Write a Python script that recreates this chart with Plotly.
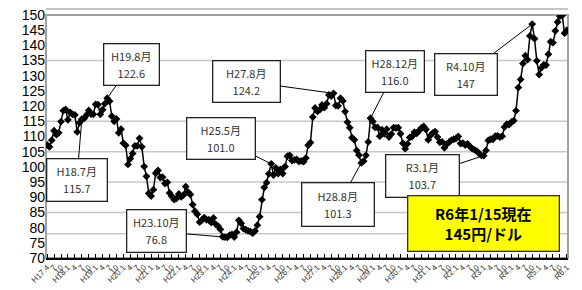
import plotly.graph_objects as go

# ---- data: monthly average USD/JPY (H17.4 .. R6.1) ----
y2005 = [107.2, 106.6, 108.8, 111.9, 110.6, 111.2, 114.9, 118.5, 118.9]          # Apr-Dec
y2006 = [115.5, 117.9, 117.3, 117.1, 111.5, 114.5, 115.7, 115.9, 117.0, 118.6, 117.4, 117.3]
y2007 = [120.6, 120.5, 117.3, 118.8, 120.8, 122.6, 121.6, 116.7, 115.0, 115.8, 111.2, 112.4]
y2008 = [107.8, 107.1, 100.8, 102.7, 104.4, 106.9, 106.9, 109.4, 106.6, 100.1, 96.9, 91.3]
y2009 = [90.4, 92.5, 97.9, 98.8, 96.5, 96.6, 94.5, 94.9, 91.4, 90.3, 89.2, 89.6]
y2010 = [91.1, 90.1, 90.7, 93.5, 91.7, 90.9, 87.6, 85.4, 84.4, 81.8, 82.5, 83.3]
y2011 = [82.6, 82.6, 81.7, 83.2, 81.1, 80.5, 79.4, 77.0, 76.9, 76.8, 77.5, 77.8]
y2012 = [76.9, 78.5, 82.4, 81.4, 79.7, 79.3, 78.9, 78.7, 78.2, 78.9, 80.8, 83.6]
y2013 = [89.2, 93.2, 94.8, 97.7, 101.0, 97.3, 99.7, 97.8, 99.2, 97.8, 100.1, 103.5]
y2014 = [103.8, 102.1, 102.3, 102.5, 101.8, 102.0, 101.7, 102.9, 107.1, 108.0, 116.4, 119.4]
y2015 = [118.3, 118.8, 120.4, 119.5, 120.8, 123.7, 123.3, 124.2, 120.2, 120.1, 122.6, 121.7]
y2016 = [118.2, 114.7, 112.9, 109.6, 108.9, 105.4, 103.9, 101.3, 101.9, 103.8, 108.2, 116.0]
y2017 = [114.9, 113.0, 113.0, 110.1, 112.2, 110.9, 112.4, 109.8, 110.8, 112.9, 112.8, 112.9]
y2018 = [110.9, 107.8, 106.0, 107.6, 109.7, 110.0, 111.4, 111.0, 111.9, 112.8, 113.3, 112.3]
y2019 = [108.9, 110.4, 111.2, 111.6, 109.8, 108.1, 108.2, 106.3, 107.5, 108.1, 108.8, 109.1]
y2020 = [109.3, 110.0, 107.7, 107.8, 107.2, 107.6, 106.7, 106.0, 105.6, 105.2, 104.4, 103.8]
y2021 = [103.7, 105.4, 108.7, 109.1, 109.1, 110.1, 110.2, 109.8, 110.1, 113.1, 114.1, 113.9]
y2022 = [114.8, 115.2, 118.5, 126.1, 128.8, 134.0, 136.6, 135.3, 143.1, 147.0, 142.2, 134.9]
y2023 = [130.4, 132.6, 133.6, 133.5, 137.1, 141.2, 140.9, 144.8, 147.7, 149.6, 149.8, 144.0]
y2024 = [145.0]                                                                   # Jan

rates = (y2005 + y2006 + y2007 + y2008 + y2009 + y2010 + y2011 + y2012 + y2013 + y2014
         + y2015 + y2016 + y2017 + y2018 + y2019 + y2020 + y2021 + y2022 + y2023 + y2024)


def era_label(year, month):
    if year < 2019 or (year == 2019 and month <= 4):
        return f"H{year - 1988}.{month}"
    return f"R{year - 2018}.{month}"


months = []
tick_vals = []
tick_text = []
year, month = 2005, 4
for i in range(len(rates)):
    lab = era_label(year, month)
    months.append(lab)
    if month in (1, 4, 7, 10):
        tick_vals.append(lab)
        tick_text.append(lab if (month == 1 or i == 0) else str(month))
    month += 1
    if month > 12:
        month = 1
        year += 1

y_ticks = list(range(70, 151, 5))
grid_values = [135, 115, 105, 95, 85, 78]

# callouts: (anchor month, label line, value line, ax, ay, width, height)
callouts = [
    ("H19.6", "H19.8月", "122.6", 24, -34, 50, 36),
    ("H18.7", "H18.7月", "115.7", -5, 61, 55, 37),
    ("H23.10", "H23.10月", "76.8", -71, -6, 54, 37),
    ("H25.5", "H25.5月", "101.0", -50, -25, 63, 36),
    ("H27.8", "H27.8月", "124.2", -87, -12, 62, 36),
    ("H28.8", "H28.8月", "101.3", -23, 42, 67, 38),
    ("H28.12", "H28.12月", "116.0", 24, -47, 53, 36),
    ("R4.10", "R4.10月", "147", -66, 50, 57, 36),
    ("R3.1", "R3.1月", "103.7", -61, 20, 68, 37),
]

fig = go.Figure()
fig.add_trace(go.Scatter(
    x=months, y=rates, mode="lines+markers",
    line=dict(color="black", width=1.5),
    marker=dict(symbol="diamond", size=6, color="black"),
    showlegend=False, hoverinfo="x+y",
))

shapes = []
for g in grid_values:
    shapes.append(dict(type="line", xref="paper", yref="y", x0=0, x1=1, y0=g, y1=g,
                       line=dict(color="#c8c8c8", width=1.5), layer="below"))
shapes.append(dict(type="rect", xref="paper", yref="paper", x0=0, x1=1, y0=0, y1=1,
                   line=dict(color="#a0a0a0", width=2), layer="below"))
shapes.append(dict(type="line", xref="paper", yref="paper", x0=0, x1=1, y0=1.025, y1=1.025,
                   line=dict(color="#b0b0b0", width=1.5)))

annotations = []
for anchor, line1, line2, ax, ay, w, h in callouts:
    val = rates[months.index(anchor)]
    text = (f"<span style='font-size:11px'>{line1}</span><br>"
            f"<span style='font-size:11px'>{line2}</span>")
    annotations.append(dict(
        x=anchor, y=val, xref="x", yref="y", text=text, showarrow=True,
        arrowhead=0, arrowwidth=1, arrowcolor="black", ax=ax, ay=ay,
        bgcolor="white", bordercolor="#222222", borderwidth=1.3, borderpad=2,
        width=w, height=h, align="center",
        font=dict(family="Noto Sans CJK JP", size=13, color="#333333"),
    ))
annotations.append(dict(
    x=0.839, y=0.14, xref="paper", yref="paper", showarrow=False,
    text="<b>R6年1/15現在<br>145円/ドル</b>",
    bgcolor="#ffff00", bordercolor="#333333", borderwidth=1.3, borderpad=2,
    width=146, height=50, align="center", xanchor="center", yanchor="middle",
    font=dict(family="Noto Sans CJK JP", size=15, color="black"),
))

fig.update_layout(
    width=582, height=290,
    margin=dict(l=46, r=14, t=15, b=32),
    paper_bgcolor="white", plot_bgcolor="white",
    shapes=shapes, annotations=annotations,
    xaxis=dict(
        type="category", range=[-0.5, len(rates) - 0.5], automargin=False,
        tickmode="array", tickvals=tick_vals, ticktext=tick_text,
        tickangle=-45, tickfont=dict(family="Liberation Sans", size=8, color="#333333"),
        ticks="inside", ticklen=4, tickcolor="black",
        showline=True, linecolor="black", linewidth=1.5, showgrid=False,
    ),
    yaxis=dict(
        range=[70, 150], tickvals=y_ticks, showgrid=False, zeroline=False,
        automargin=False,
        tickfont=dict(family="Liberation Sans", size=14, color="black"),
        ticks="", showline=False,
    ),
)

fig.write_html("out.html", config={"displayModeBar": False},
               post_script="document.body.style.margin='0';document.body.style.overflow='hidden';")
